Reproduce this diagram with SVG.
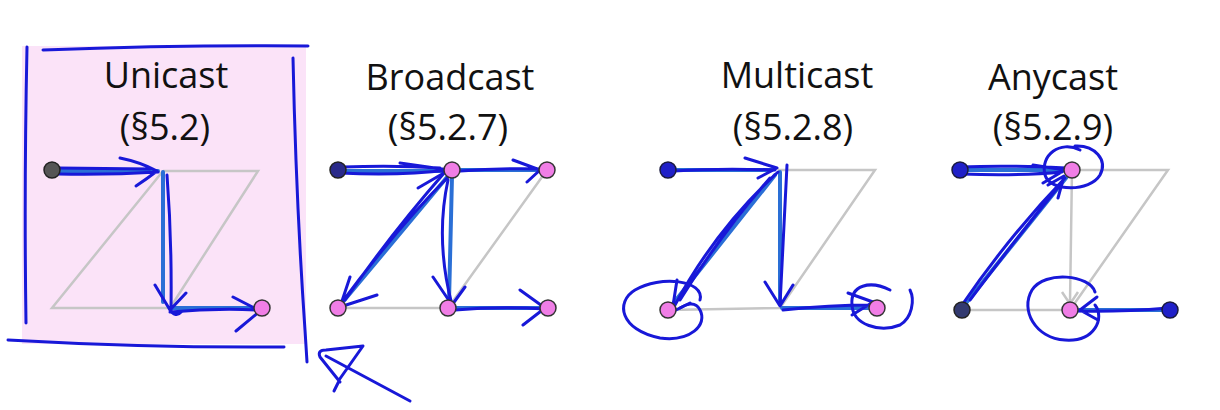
<svg xmlns="http://www.w3.org/2000/svg" width="1220" height="410" viewBox="0 0 1220 410">
<style>
.t{font-family:"Open Sans","Liberation Sans",sans-serif;font-size:36px;fill:#111;text-anchor:middle}
.g{stroke:#c6c6c6;stroke-width:2.5;fill:none}
.s{stroke:#2a6fd6;stroke-width:4;fill:none;stroke-linecap:round}
.k{stroke:#1818d8;stroke-width:3;fill:none;stroke-linecap:round;stroke-linejoin:round}
.dk{fill:#555;stroke:#222;stroke-width:1.5}
.bl{fill:#2020c8;stroke:#1a1a40;stroke-width:1.5}
.pk{fill:#f07ee6;stroke:#333;stroke-width:1.5}
</style>
<rect width="1220" height="410" fill="#fff"/>
<g id="highlight">
<rect x="22" y="46" width="284" height="298" fill="#fbe3f8"/>
<path class="k" d="M43,50 Q180,45 308,46"/>
<path class="k" d="M27,47 Q24,190 26,323"/>
<path class="k" d="M293,58 Q296,200 305,330 L307,362"/>
<path class="k" d="M8,340 Q150,348 284,347"/>
<path class="k" d="M334,391 L339,381 M340,382 L320,357 Q317,350 326,350 L363,346 L339,380 M326,356 L410,401"/>
</g>
<g id="labels">
<text class="t" x="166" y="88">Unicast</text>
<text class="t" x="165" y="140">(§5.2)</text>
<text class="t" x="450" y="90">Broadcast</text>
<text class="t" x="448" y="140">(§5.2.7)</text>
<text class="t" x="797" y="88">Multicast</text>
<text class="t" x="793" y="140">(§5.2.8)</text>
<text class="t" x="1053" y="90">Anycast</text>
<text class="t" x="1053" y="140">(§5.2.9)</text>
</g>
<g id="edges">
<path class="g" d="M163,171 L258,171 L170,308 L52,308 L163,171"/>
<path class="g" d="M338,308 L448,308 L547,170"/>
<path class="g" d="M778,170 L875,170 L780,308 L668,310"/>
<path class="g" d="M1072,170 L1168,170 L1070,310 L962,310 M1072,170 L1070,303 M1062,292 L1070,304 L1078,292"/>
</g>
<g id="connectors">
<path class="s" d="M58,171 L158,171 M163,172 L163,302 M172,308 L255,308"/>
<path class="k" d="M58,174 Q110,175 158,172 M58,168 L150,169 M120,158 Q140,162 157,171 Q148,178 136,186"/>
<path class="k" d="M167,175 Q172,240 171,310 M155,285 L170,310 L186,293 M170,310 Q176,318 181,312"/>
<path class="k" d="M170,312 Q215,308 258,310 M233,297 L260,311 L236,331"/>
<path class="s" d="M344,171 L446,171 M458,170 L540,170 M448,176 L342,303 M452,176 L449,302 M455,308 L541,308"/>
<path class="k" d="M340,173 Q400,176 448,170 M343,167 Q395,165 440,168 M400,163 L449,170 L418,188"/>
<path class="k" d="M460,171 Q500,168 541,169 M513,160 L540,170 L527,182"/>
<path class="k" d="M450,175 Q395,230 340,305 M445,172 Q390,235 345,300 M350,277 L340,307 L377,295"/>
<path class="k" d="M448,180 Q435,240 452,305 M433,277 L452,305 L465,287"/>
<path class="k" d="M455,310 Q500,306 545,309 M520,290 L545,308 L523,325"/>
<path class="s" d="M674,170 L772,170 M775,175 L672,305 M780,172 L780,300 M782,308 L870,308"/>
<path class="k" d="M674,171 Q720,168 775,170 M745,158 L777,168 L758,178"/>
<path class="k" d="M778,172 Q715,230 675,305 M770,178 Q720,235 680,300 M677,280 L672,312 L690,303"/>
<path class="k" d="M787,165 Q783,240 780,305 M765,282 L780,306 L793,285"/>
<path class="k" d="M783,310 Q830,305 872,305 M848,293 L873,302 L852,315"/>
<path class="k" d="M700,300 C705,280 660,275 635,290 C615,302 620,330 660,338 C690,342 708,325 700,310 C695,300 685,305 680,308"/>
<path class="k" d="M890,290 C870,280 850,285 852,305 C853,325 880,333 900,325 C912,318 915,300 910,290"/>
<path class="s" d="M966,170 L1064,170 M966,303 L1066,178 M1163,310 L1078,310"/>
<path class="k" d="M960,167 Q1010,165 1066,168 M962,174 Q1020,176 1062,172 M1033,165 L1065,170 L1043,183"/>
<path class="k" d="M962,305 Q1010,235 1065,178 M970,300 Q1015,240 1060,185 M1048,185 L1064,176 L1058,198"/>
<path class="k" d="M1168,308 Q1120,312 1078,311 M1097,297 L1080,310 L1098,320"/>
<path class="k" d="M1080,150 C1060,140 1040,155 1045,175 C1050,192 1090,192 1100,175 C1108,160 1095,145 1075,146"/>
<path class="k" d="M1095,292 C1090,275 1045,270 1032,290 C1020,310 1035,338 1065,340 C1095,342 1105,318 1095,305"/>
</g>
<g id="n-uni-src"><circle class="dk" cx="52" cy="170" r="8"/></g>
<g id="n-uni-dst"><circle class="pk" cx="262" cy="308" r="8"/></g>
<g id="n-bc-src"><circle class="dk" cx="338" cy="170" r="8" style="fill:#2a2a8a"/></g>
<g id="n-bc-b"><circle class="pk" cx="452" cy="170" r="8"/></g>
<g id="n-bc-c"><circle class="pk" cx="547" cy="170" r="8"/></g>
<g id="n-bc-d"><circle class="pk" cx="338" cy="308" r="8"/></g>
<g id="n-bc-e"><circle class="pk" cx="448" cy="308" r="8"/></g>
<g id="n-bc-f"><circle class="pk" cx="548" cy="308" r="8"/></g>
<g id="n-mc-src"><circle class="bl" cx="668" cy="170" r="8"/></g>
<g id="n-mc-d"><circle class="pk" cx="668" cy="310" r="8"/></g>
<g id="n-mc-f"><circle class="pk" cx="877" cy="308" r="8"/></g>
<g id="n-ac-a"><circle class="bl" cx="960" cy="170" r="8"/></g>
<g id="n-ac-b"><circle class="pk" cx="1072" cy="170" r="8"/></g>
<g id="n-ac-d"><circle class="dk" cx="962" cy="310" r="8" style="fill:#333a70"/></g>
<g id="n-ac-e"><circle class="pk" cx="1070" cy="310" r="8"/></g>
<g id="n-ac-f"><circle class="bl" cx="1170" cy="310" r="8"/></g>
</svg>
